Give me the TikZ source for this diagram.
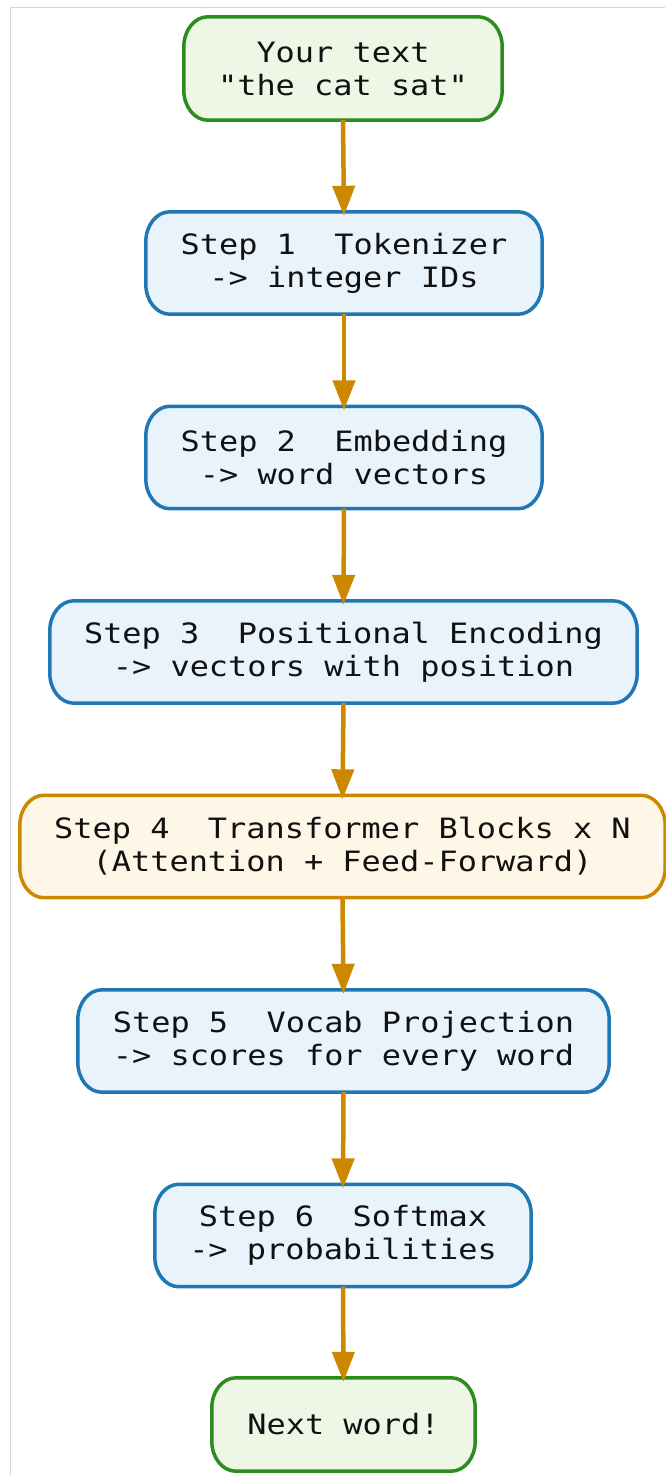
\documentclass[tikz,border=0pt]{standalone}
\usepackage{fontspec}
\usetikzlibrary{arrows.meta,backgrounds}
\newfontfamily\flowmono[FakeStretch=1.14]{DejaVu Sans Mono}

\definecolor{gEdge}{RGB}{44,140,30}
\definecolor{gFill}{RGB}{238,247,230}
\definecolor{bEdge}{RGB}{31,119,180}
\definecolor{bFill}{RGB}{232,243,252}
\definecolor{oEdge}{RGB}{204,136,0}
\definecolor{oFill}{RGB}{254,246,231}
\definecolor{flowArrow}{RGB}{204,136,0}
\definecolor{frameGray}{RGB}{212,212,212}
\definecolor{ink}{RGB}{17,17,17}

% rounded box outline with elliptical corners, drawn around a named node
\newcommand\pillpath[2]{%
  \path[#2] ([xshift=24pt]#1.north west) -- ([xshift=-24pt]#1.north east)
    arc[start angle=90,end angle=0,x radius=24pt,y radius=30pt]
    -- ([yshift=30pt]#1.south east)
    arc[start angle=0,end angle=-90,x radius=24pt,y radius=30pt]
    -- ([xshift=24pt]#1.south west)
    arc[start angle=270,end angle=180,x radius=24pt,y radius=30pt]
    -- ([yshift=-30pt]#1.north west)
    arc[start angle=180,end angle=90,x radius=24pt,y radius=30pt]
    -- cycle;}

\tikzset{
  stage/.style={inner sep=0pt, align=center, text=ink,
    font=\flowmono\fontsize{28}{33}\selectfont},
  greenpill/.style={draw=gEdge, fill=gFill, line width=3.5pt},
  bluepill/.style={draw=bEdge, fill=bFill, line width=3.5pt},
  orangepill/.style={draw=oEdge, fill=oFill, line width=3.5pt},
  flow/.style={draw=flowArrow, line width=4.5pt,
    -{Triangle[length=30pt,width=22pt]}},
}

\begin{document}
\begin{tikzpicture}[x=1pt,y=-1pt]
\useasboundingbox (0,0) rectangle (665,1475);

\node[stage, minimum width=318pt, minimum height=103pt] (in) at (343,68.5)
  {Your text\\"the cat sat"};
\node[stage, minimum width=396pt, minimum height=102pt] (s1) at (344,263)
  {Step 1~~Tokenizer\\-> integer IDs};
\node[stage, minimum width=396pt, minimum height=102pt] (s2) at (344,457.5)
  {Step 2~~Embedding\\-> word vectors};
\node[stage, minimum width=587pt, minimum height=102pt] (s3) at (343.5,652)
  {Step 3~~Positional Encoding\\-> vectors with position};
\node[stage, minimum width=645pt, minimum height=102pt] (s4) at (342.5,846.5)
  {Step 4~~Transformer Blocks x N\\(Attention + Feed-Forward)};
\node[stage, minimum width=531pt, minimum height=102pt] (s5) at (343.5,1041)
  {Step 5~~Vocab Projection\\-> scores for every word};
\node[stage, minimum width=376pt, minimum height=102pt] (s6) at (343,1235.5)
  {Step 6~~Softmax\\-> probabilities};
\node[stage, minimum width=263pt, minimum height=93pt] (out) at (343.5,1424.5)
  {Next word!};

\begin{scope}[on background layer]
  \fill[white] (0,0) rectangle (665,1475);
  % light frame along the top and left edges
  \draw[frameGray, line width=1pt] (10.5,1475) -- (10.5,7.5) -- (665,7.5);
  \pillpath{in}{greenpill}
  \pillpath{s1}{bluepill}
  \pillpath{s2}{bluepill}
  \pillpath{s3}{bluepill}
  \pillpath{s4}{orangepill}
  \pillpath{s5}{bluepill}
  \pillpath{s6}{bluepill}
  \pillpath{out}{greenpill}
\end{scope}

\foreach \a/\b in {in/s1, s1/s2, s2/s3, s3/s4, s4/s5, s5/s6, s6/out}
  \draw[flow] (\a.south) -- ([yshift=-4pt]\b.north);
\end{tikzpicture}
\end{document}
